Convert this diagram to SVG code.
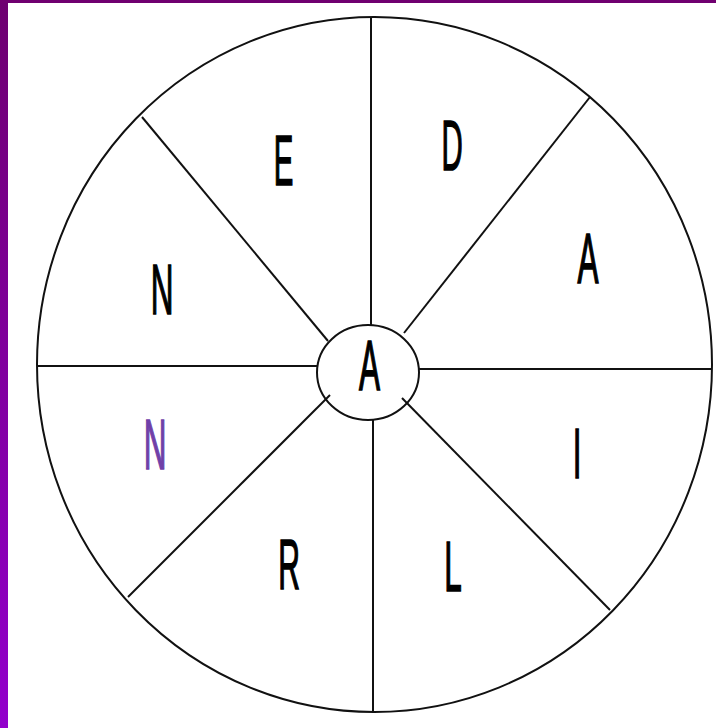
<svg xmlns="http://www.w3.org/2000/svg" width="716" height="728" viewBox="0 0 716 728">
<defs>
<linearGradient id="side" x1="0" y1="0" x2="0" y2="1">
<stop offset="0" stop-color="#6e0070"/>
<stop offset="1" stop-color="#9300cc"/>
</linearGradient>
<style>
.ln{stroke:#111;stroke-width:2;fill:none}
.lt{font-family:"Liberation Sans",Arial,sans-serif;font-size:70px;fill:#000;stroke:#000;stroke-width:1.6;text-anchor:middle}
.pu{fill:#7040a8;stroke:#7040a8}
</style>
</defs>
<rect x="0" y="0" width="716" height="728" fill="#ffffff"/>
<rect x="0" y="0" width="8" height="728" fill="url(#side)"/>
<rect x="0" y="0" width="716" height="3" fill="#700070"/>
<g id="wheel">
<ellipse class="ln" cx="374.5" cy="364.5" rx="337.5" ry="347.5"/>
</g>
<g id="connectors">
<line class="ln" x1="371" y1="17" x2="371" y2="325"/>
<line class="ln" x1="373" y1="420" x2="373" y2="712"/>
<line class="ln" x1="37" y1="366" x2="318" y2="366"/>
<line class="ln" x1="419" y1="369" x2="712" y2="369"/>
<line class="ln" x1="404" y1="333" x2="590" y2="97"/>
<line class="ln" x1="142" y1="117" x2="328" y2="341"/>
<line class="ln" x1="128" y1="597" x2="330" y2="395"/>
<line class="ln" x1="402" y1="398" x2="610" y2="610"/>
</g>
<g id="center">
<ellipse class="ln" cx="368" cy="372.5" rx="51" ry="47.5" fill="#fff"/>
<text class="lt" transform="translate(369.5,390) scale(0.45,1)">A</text>
</g>
<g id="sector-E"><text class="lt" transform="translate(283.5,185) scale(0.42,1)">E</text></g>
<g id="sector-D"><text class="lt" transform="translate(452,170) scale(0.42,1)">D</text></g>
<g id="sector-A"><text class="lt" transform="translate(588,283) scale(0.45,1)">A</text></g>
<g id="sector-N1"><text class="lt" transform="translate(162,314) scale(0.45,1)">N</text></g>
<g id="sector-N2"><text class="lt pu" transform="translate(155,469) scale(0.45,1)">N</text></g>
<g id="sector-I"><text class="lt" transform="translate(577,478) scale(0.45,1)">I</text></g>
<g id="sector-R"><text class="lt" transform="translate(289,589) scale(0.43,1)">R</text></g>
<g id="sector-L"><text class="lt" transform="translate(453,591) scale(0.45,1)">L</text></g>
</svg>
